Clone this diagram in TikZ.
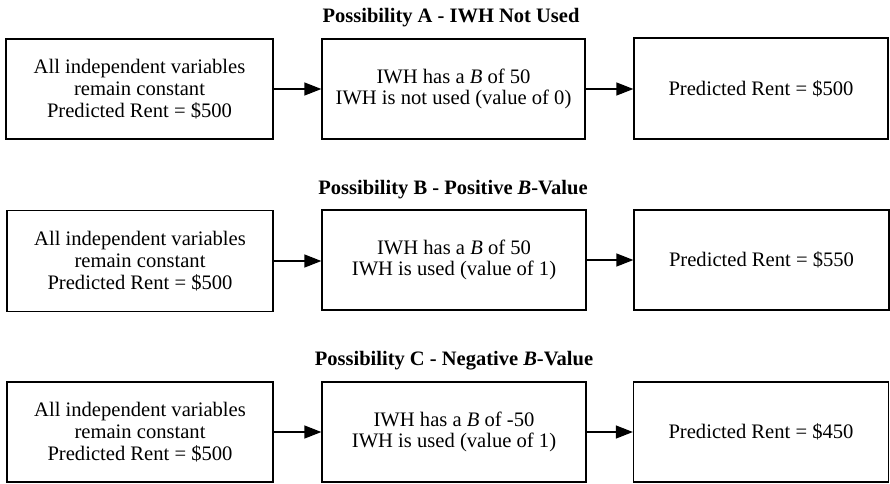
\documentclass[tikz,border=0pt]{standalone}
\usepackage{fontspec}
\setmainfont{Liberation Serif}
\usetikzlibrary{arrows.meta}
\begin{document}
\begin{tikzpicture}[x=1pt,y=-1pt,
  box/.style={draw,line width=1.3pt,align=center,inner sep=0pt,font=\fontsize{20.6}{21.8}\selectfont},
  ttl/.style={font=\fontsize{20.5}{22}\selectfont\bfseries},
  arr/.style={line width=1.3pt,-{Triangle[length=17pt,width=13pt]}}]
\useasboundingbox (0,0) rectangle (890,483);
% Row A
\node[ttl] (tA) at (451,18) {Possibility A - IWH Not Used};
\node[box,minimum width=267pt,minimum height=100pt] (a1) at (139.5,89) {All independent variables\\remain constant\\Predicted Rent = \$500};
\node[box,minimum width=263pt,minimum height=100pt] (a2) at (453.5,89) {IWH has a \textit{B} of 50\\IWH is not used (value of 0)};
\node[box,minimum width=254pt,minimum height=101pt] (a3) at (761,88.5) {Predicted Rent = \$500};
\draw[arr] (a1.east) -- (a2.west);
\draw[arr] (a2.east) -- (a3.west |- a2.east);
% Row B
\node[ttl] (tB) at (453,190) {Possibility B - Positive \textit{B}-Value};
\node[box,minimum width=266pt,minimum height=101pt] (b1) at (140,261) {All independent variables\\remain constant\\Predicted Rent = \$500};
\node[box,minimum width=264pt,minimum height=100pt] (b2) at (454,260) {IWH has a \textit{B} of 50\\IWH is used (value of 1)};
\node[box,minimum width=255pt,minimum height=100pt] (b3) at (761.5,260) {Predicted Rent = \$550};
\draw[arr] (b1.east) -- (b2.west |- b1.east);
\draw[arr] (b2.east) -- (b3.west);
% Row C
\node[ttl] (tC) at (454,361) {Possibility C - Negative \textit{B}-Value};
\node[box,minimum width=266pt,minimum height=100pt] (c1) at (140,432) {All independent variables\\remain constant\\Predicted Rent = \$500};
\node[box,minimum width=264pt,minimum height=100pt] (c2) at (454,432) {IWH has a \textit{B} of -50\\IWH is used (value of 1)};
\node[box,minimum width=255pt,minimum height=100pt] (c3) at (761,432) {Predicted Rent = \$450};
\draw[arr] (c1.east) -- (c2.west);
\draw[arr] (c2.east) -- (c3.west);
\end{tikzpicture}
\end{document}
